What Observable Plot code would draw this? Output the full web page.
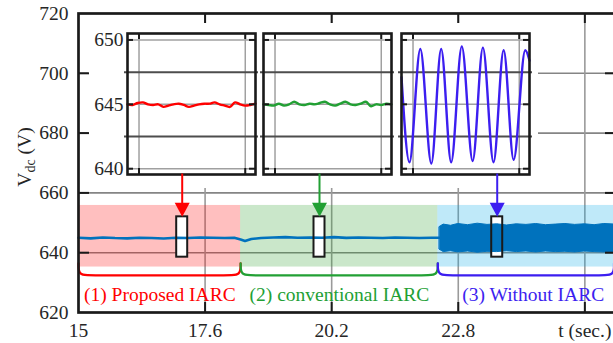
<!DOCTYPE html>
<html><head><meta charset="utf-8">
<script src="https://cdn.jsdelivr.net/npm/d3@7"></script>
<script src="https://cdn.jsdelivr.net/npm/@observablehq/plot@0.6"></script>
<style>
html,body{margin:0;padding:0;background:#fff;overflow:hidden;}
#wrap{position:relative;width:618px;height:343px;overflow:hidden;}
#wrap > .layer{position:absolute;}
</style></head><body><div id="wrap"></div>
<script>
// ---------------- data ----------------
const xTicks = [15, 17.6, 20.2, 22.8, 25.4];
const xTickLabels = ["15", "17.6", "20.2", "22.8", "t (sec.)"];
const yTicks = [620, 640, 660, 680, 700, 720];
const yGrid = [640, 660, 680, 700];

const regionNames = ["(1) Proposed IARC", "(2) conventional IARC", "(3) Without IARC"];
const regionStart = [15, 18.33, 22.38];
const regionEnd = [18.33, 22.38, 26.0];
const labelT = [16.67, 20.36, 24.34];
const labelV = 626;
const shadeLow = 635.2, shadeHigh = 655.8;
const braceTop = 636.4, braceBottom = 632.4;

const markT = [17.13, 19.95, 23.6];
const markLow = 638.5, markHigh = 652;
const arrowFrom = 666.3;

// main Vdc trace (regions 1 & 2)
const mainT = [15.0, 15.25, 15.5, 15.75, 16.0, 16.25, 16.5, 16.75, 17.0, 17.25, 17.5, 17.75, 18.0, 18.2, 18.33, 18.42, 18.55, 18.75, 19.0, 19.25, 19.5, 19.75, 20.0, 20.25, 20.5, 20.75, 21.0, 21.25, 21.5, 21.75, 22.0, 22.25, 22.42];
const mainV = [645.0, 644.8, 645.1, 644.9, 644.8, 645.0, 644.9, 644.75, 645.0, 644.9, 645.1, 645.0, 644.9, 645.0, 644.4, 643.9, 644.6, 644.9, 645.1, 645.2, 645.0, 645.1, 645.0, 645.2, 644.95, 645.1, 645.0, 644.9, 645.1, 645.0, 644.9, 645.0, 645.0];
// region 3: fast oscillation envelope
const bandT = [22.42, 22.5, 22.65, 22.8, 23.0, 23.2, 23.4, 23.6, 23.8, 24.0, 24.2, 24.4, 24.6, 24.8, 25.0, 25.2, 25.4, 25.6, 25.8, 26.05];
const bandHigh = [648.6, 649.4, 649.0, 649.6, 649.2, 649.7, 649.3, 649.5, 649.1, 649.5, 649.3, 649.6, 649.2, 649.4, 649.6, 649.3, 649.5, 649.2, 649.6, 649.4];
const bandLow = [641.0, 640.2, 640.5, 640.1, 640.4, 640.0, 640.3, 640.2, 640.5, 640.2, 640.4, 640.1, 640.4, 640.2, 640.3, 640.1, 640.4, 640.2, 640.1, 640.3];

// insets (window in ms)
const insetTicks = [640, 645, 650];
const insetDark = [642.5, 647.5];
const insetGridT = [9, 92];
const insetT = [0, 4, 8, 12, 16, 20, 24, 28, 32, 36, 40, 44, 48, 52, 56, 60, 64, 68, 72, 76, 80, 84, 88, 92, 96, 100];
const redV = [645.0, 644.95, 645.1, 645.15, 645.0, 644.95, 645.0, 644.8, 644.9, 645.0, 645.05, 644.95, 644.8, 644.9, 645.0, 645.05, 645.05, 645.15, 645.0, 644.9, 644.8, 645.15, 645.0, 644.9, 644.95, 645.05];
const greenV = [645.0, 644.95, 644.9, 645.05, 644.9, 645.0, 645.2, 645.0, 644.95, 645.05, 645.0, 645.1, 645.2, 645.0, 644.9, 645.05, 645.2, 645.0, 644.95, 645.05, 645.2, 644.85, 645.0, 644.95, 645.05, 645.0];
const blueInsetT = [0, 6.2, 14.7, 23.3, 31.0, 38.8, 47.1, 55.6, 63.6, 71.9, 79.8, 87.6, 96.7, 100];
const blueInsetV = [647.1, 640.5, 649.3, 640.4, 649.3, 640.5, 649.5, 640.6, 649.4, 640.5, 649.2, 640.7, 649.2, 648.4];

// ---------------- styles ----------------
const serif = "'Liberation Serif', 'Times New Roman', serif";
const ink = "#1a1a1a";
const textInk = "#262626";
const traceBlue = "#0072bd";
const regionInk = ["#ff0000", "#22a034", "#3c1ef0"];
const regionFill = ["#ff0000", "#2ca02c", "#00a8e8"];
const W = 618, H = 343, ML = 78, MR = 2, MT = 13, MB = 31;
const PW = W - ML - MR, PH = H - MT - MB;

const wrap = document.getElementById("wrap");
function place(node, left, top) {
  node.classList.add("layer");
  node.style.left = left + "px"; node.style.top = top + "px";
  wrap.appendChild(node);
  return node;
}
const svgStyle = {background: "transparent", maxWidth: "none", overflow: "visible", fontFamily: serif, fontSize: "19.5px", color: textInk};

// ---------------- base layer: grid ----------------
const base = Plot.plot({
  width: W, height: H, marginLeft: ML, marginRight: MR, marginTop: MT, marginBottom: MB,
  style: svgStyle,
  x: {domain: [15, 26.05], axis: null},
  y: {domain: [620, 720], axis: null},
  marks: [
    Plot.ruleY(yGrid, {stroke: "#858585", strokeWidth: 1.6}),
    Plot.ruleX(xTicks.slice(1), {stroke: "#9a9a9a", strokeWidth: 1.6})
  ]
});
place(base, 0, 0);

// white panel behind insets
const panel = document.createElement("div");
panel.style.width = "450px"; panel.style.height = "165px"; panel.style.background = "#fff";
place(panel, 88, 23);

// ---------------- insets ----------------
function inset(t, v, color, curve, withAxis) {
  const pw = 128, ph = 141, mL = withAxis ? 39 : 4;
  return Plot.plot({
    width: mL + pw + 4, height: 10 + ph + 4,
    marginLeft: mL, marginRight: 4, marginTop: 10, marginBottom: 4,
    style: svgStyle,
    x: {domain: [0, 100], axis: null},
    y: {domain: [639.55, 650.5], axis: withAxis ? "left" : null, ticks: insetTicks, tickSize: 0, tickPadding: 4, label: null},
    marks: [
      Plot.ruleY(insetTicks, {stroke: "#a0a0a0", strokeWidth: 1.5}),
      Plot.ruleX(insetGridT, {stroke: "#a0a0a0", strokeWidth: 1.5}),
      Plot.ruleY(insetDark, {stroke: "#4d4d4d", strokeWidth: 2, insetLeft: -3, insetRight: -3}),
      Plot.line(t.map((d, i) => ({t: d, v: v[i]})), {x: "t", y: "v", stroke: color, strokeWidth: 2.4, curve}),
      Plot.ruleY(insetTicks, {stroke: ink, strokeWidth: 2, insetRight: pw - 6}),
      Plot.ruleY(insetTicks, {stroke: ink, strokeWidth: 2, insetLeft: pw - 6}),
      Plot.ruleX(insetGridT, {stroke: ink, strokeWidth: 2, insetBottom: ph - 6}),
      Plot.ruleX(insetGridT, {stroke: ink, strokeWidth: 2, insetTop: ph - 6}),
      Plot.frame({stroke: ink, strokeWidth: 2.6})
    ]
  });
}
place(inset(insetT, redV, regionInk[0], "catmull-rom", true), 88, 23);
place(inset(insetT, greenV, regionInk[1], "catmull-rom", false), 259, 23);
place(inset(blueInsetT, blueInsetV, regionInk[2], "monotone-x", false), 397, 23);

// ---------------- overlay layer ----------------
const mainData = mainT.map((t, i) => ({t, v: mainV[i]}));
const bandData = bandT.map((t, i) => ({t, lo: bandLow[i], hi: bandHigh[i]}));
const arrowHead = {draw(ctx) { ctx.moveTo(-7.5, -14); ctx.lineTo(7.5, -14); ctx.lineTo(0, 0); ctx.closePath(); }};

const marks = [];
regionNames.forEach((name, i) => {
  marks.push(Plot.rect([i], {x1: () => regionStart[i], x2: () => regionEnd[i], y1: shadeLow, y2: shadeHigh, fill: regionFill[i], fillOpacity: 0.25}));
});
marks.push(Plot.rect(markT, {x1: d => d, x2: d => d, y1: markLow, y2: markHigh, insetLeft: -5.5, insetRight: -5.5, fill: "white"}));
marks.push(Plot.line(mainData, {x: "t", y: "v", stroke: traceBlue, strokeWidth: 2.6}));
marks.push(Plot.areaY(bandData, {x: "t", y1: "lo", y2: "hi", fill: traceBlue, stroke: traceBlue, strokeWidth: 1}));
marks.push(Plot.rect(markT, {x1: d => d, x2: d => d, y1: markLow, y2: markHigh, insetLeft: -5.5, insetRight: -5.5, fill: "none", stroke: ink, strokeWidth: 2}));
regionNames.forEach((name, i) => {
  const s = regionStart[i], e = regionEnd[i], c = 0.25;
  const brace = [[s, braceTop], [s, braceBottom], [s + c, braceBottom], [e - c, braceBottom], [e, braceBottom], [e, braceTop]];
  marks.push(Plot.line(brace, {x: d => d[0], y: d => d[1], curve: "basis", stroke: regionInk[i], strokeWidth: 2.3}));
  marks.push(Plot.ruleX([markT[i]], {y1: arrowFrom, y2: markHigh + 3, stroke: regionInk[i], strokeWidth: 2}));
  marks.push(Plot.dot([markT[i]], {x: d => d, y: markHigh, symbol: arrowHead, fill: regionInk[i], stroke: "none"}));
  marks.push(Plot.text([name], {x: labelT[i], y: labelV, text: d => d, fill: regionInk[i], fontSize: 19.5, fontFamily: serif}));
});
marks.push(Plot.frame({stroke: ink, strokeWidth: 2.7}));
marks.push(Plot.ruleY(yGrid, {stroke: ink, strokeWidth: 2, insetRight: PW - 11}));
marks.push(Plot.ruleY(yGrid, {stroke: ink, strokeWidth: 2, insetLeft: PW - 11}));
marks.push(Plot.ruleX(xTicks.slice(1), {stroke: ink, strokeWidth: 2, insetBottom: PH - 10}));
marks.push(Plot.ruleX(xTicks.slice(1), {stroke: ink, strokeWidth: 2, insetTop: PH - 10}));

const overlay = Plot.plot({
  width: W, height: H, marginLeft: ML, marginRight: MR, marginTop: MT, marginBottom: MB,
  style: svgStyle,
  x: {domain: [15, 26.05], ticks: xTicks, tickFormat: d => xTickLabels[xTicks.indexOf(d)], tickSize: 0, tickPadding: 11, label: null},
  y: {domain: [620, 720], ticks: yTicks, tickSize: 0, tickPadding: 10, label: null},
  marks
});
place(overlay, 0, 0);

// y-axis title with subscript
const title = d3.select(overlay).append("text")
  .attr("transform", "translate(31,157) rotate(-90)")
  .attr("text-anchor", "middle")
  .attr("font-family", serif).attr("font-size", 19.5).attr("fill", textInk);
title.append("tspan").text("V");
title.append("tspan").attr("font-size", 14).attr("dy", 4).text("dc");
title.append("tspan").attr("dy", -4).text(" (V)");
</script></body></html>
